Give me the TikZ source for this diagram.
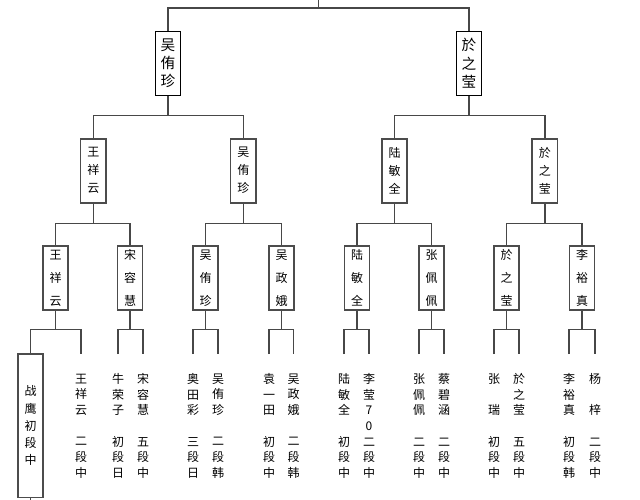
\documentclass[tikz,border=0pt]{standalone}
\usepackage{fontspec}
\setmainfont{Noto Sans CJK SC}
\begin{document}
\begin{tikzpicture}[x=0.75pt,y=-0.75pt,
  conn/.style={draw=black!72,line width=1.1pt},
  topbox/.style={draw=black,line width=0.8pt,fill=white,inner sep=0pt,
    minimum width=19pt,minimum height=48pt,align=center,
    font=\fontsize{11}{13.7}\selectfont},
  midbox/.style={draw=black!70,line width=1.2pt,fill=white,inner sep=0pt,
    minimum width=19pt,minimum height=48pt,align=center,
    font=\fontsize{9}{13.5}\selectfont},
  lowbox/.style={midbox,font=\fontsize{9}{17.25}\selectfont},
  longbox/.style={midbox,minimum height=107.5pt,font=\fontsize{9}{12.9}\selectfont},
  col/.style={inner sep=0pt,align=center,font=\fontsize{9}{11.75}\selectfont}]
\fill[white] (0,0) rectangle (640,500);
\useasboundingbox (0,0) rectangle (640,500);
\newcommand\bl{\phantom{中}}
\newcommand\mkfork[4]{%
  \draw[conn] (#1) -- (#1 |- #4);
  \draw[conn] (#2) -- (#2 |- #4) -- (#3 |- #4) -- (#3);}
% levels of horizontals
\coordinate (h0) at (0,8);
\coordinate (h1) at (0,115.7);
\coordinate (h2) at (0,223.3);
\coordinate (h3) at (0,329.3);
\coordinate (top) at (318.5,0);
% level 1
\node[topbox] (A1) at (168,63.3) {吴\\侑\\珍};
\node[topbox] (B1) at (469,63.3) {於\\之\\莹};
% level 2
\node[midbox] (A2) at (93.3,170.7) {王\\祥\\云};
\node[midbox] (B2) at (243.3,170.7) {吴\\侑\\珍};
\node[midbox] (C2) at (394.5,170.7) {陆\\敏\\全};
\node[midbox] (D2) at (544.8,170.7) {於\\之\\莹};
% level 3
\node[lowbox] (A3) at (55.5,278) {王\\祥\\云};
\node[lowbox] (B3) at (130,278) {宋\\容\\慧};
\node[lowbox] (C3) at (205.5,278) {吴\\侑\\珍};
\node[lowbox] (D3) at (281.5,278) {吴\\政\\娥};
\node[lowbox] (E3) at (357,278) {陆\\敏\\全};
\node[lowbox] (F3) at (431.5,278) {张\\佩\\佩};
\node[lowbox] (G3) at (506.5,278) {於\\之\\莹};
\node[lowbox] (H3) at (582,278) {李\\裕\\真};
% level 4
\node[longbox] (zy) at (30.5,425.7) {战\\鹰\\初\\段\\中};
\coordinate (zyt) at (zy.north);
\coordinate (zyb) at (30.5,500);
\foreach \n/\x in {c1/81,c2/118,c3/143,c4/193,c5/218,c6/269,c7/293.5,
  c8/344,c9/369,c10/419,c11/444,c12/494,c13/519,c14/569,c15/595}
  {\coordinate (\n) at (\x,354);}
\node[col] (t1) at (81,426) {王\\祥\\云\\\bl\\二\\段\\中};
\node[col] (t2) at (118,426) {牛\\荣\\子\\\bl\\初\\段\\日};
\node[col] (t3) at (143,426) {宋\\容\\慧\\\bl\\五\\段\\中};
\node[col] (t4) at (193,426) {奥\\田\\彩\\\bl\\三\\段\\日};
\node[col] (t5) at (218,426) {吴\\侑\\珍\\\bl\\二\\段\\韩};
\node[col] (t6) at (269,426) {袁\\一\\田\\\bl\\初\\段\\中};
\node[col] (t7) at (293.5,426) {吴\\政\\娥\\\bl\\二\\段\\韩};
\node[col] (t8) at (344,426) {陆\\敏\\全\\\bl\\初\\段\\中};
\node[col] (t9) at (369,426) {李\\莹\\7\\0\\二\\段\\中};
\node[col] (t10) at (419,426) {张\\佩\\佩\\\bl\\二\\段\\中};
\node[col] (t11) at (444,426) {蔡\\碧\\涵\\\bl\\二\\段\\中};
\node[col] (t12) at (494,426) {张\\\bl\\瑞\\\bl\\初\\段\\中};
\node[col] (t13) at (519,426) {於\\之\\莹\\\bl\\五\\段\\中};
\node[col] (t14) at (569,426) {李\\裕\\真\\\bl\\初\\段\\韩};
\node[col] (t15) at (595,426) {杨\\\bl\\梓\\\bl\\二\\段\\中};
% connectors
\mkfork{top}{A1.north}{B1.north}{h0}
\mkfork{A1.south}{A2.north}{B2.north}{h1}
\mkfork{B1.south}{C2.north}{D2.north}{h1}
\mkfork{A2.south}{A3.north}{B3.north}{h2}
\mkfork{B2.south}{C3.north}{D3.north}{h2}
\mkfork{C2.south}{E3.north}{F3.north}{h2}
\mkfork{D2.south}{G3.north}{H3.north}{h2}
\mkfork{A3.south}{zyt}{c1}{h3}
\mkfork{B3.south}{c2}{c3}{h3}
\mkfork{C3.south}{c4}{c5}{h3}
\mkfork{D3.south}{c6}{c7}{h3}
\mkfork{E3.south}{c8}{c9}{h3}
\mkfork{F3.south}{c10}{c11}{h3}
\mkfork{G3.south}{c12}{c13}{h3}
\mkfork{H3.south}{c14}{c15}{h3}
\draw[conn] (zy.south) -- (zyb);
\end{tikzpicture}
\end{document}
